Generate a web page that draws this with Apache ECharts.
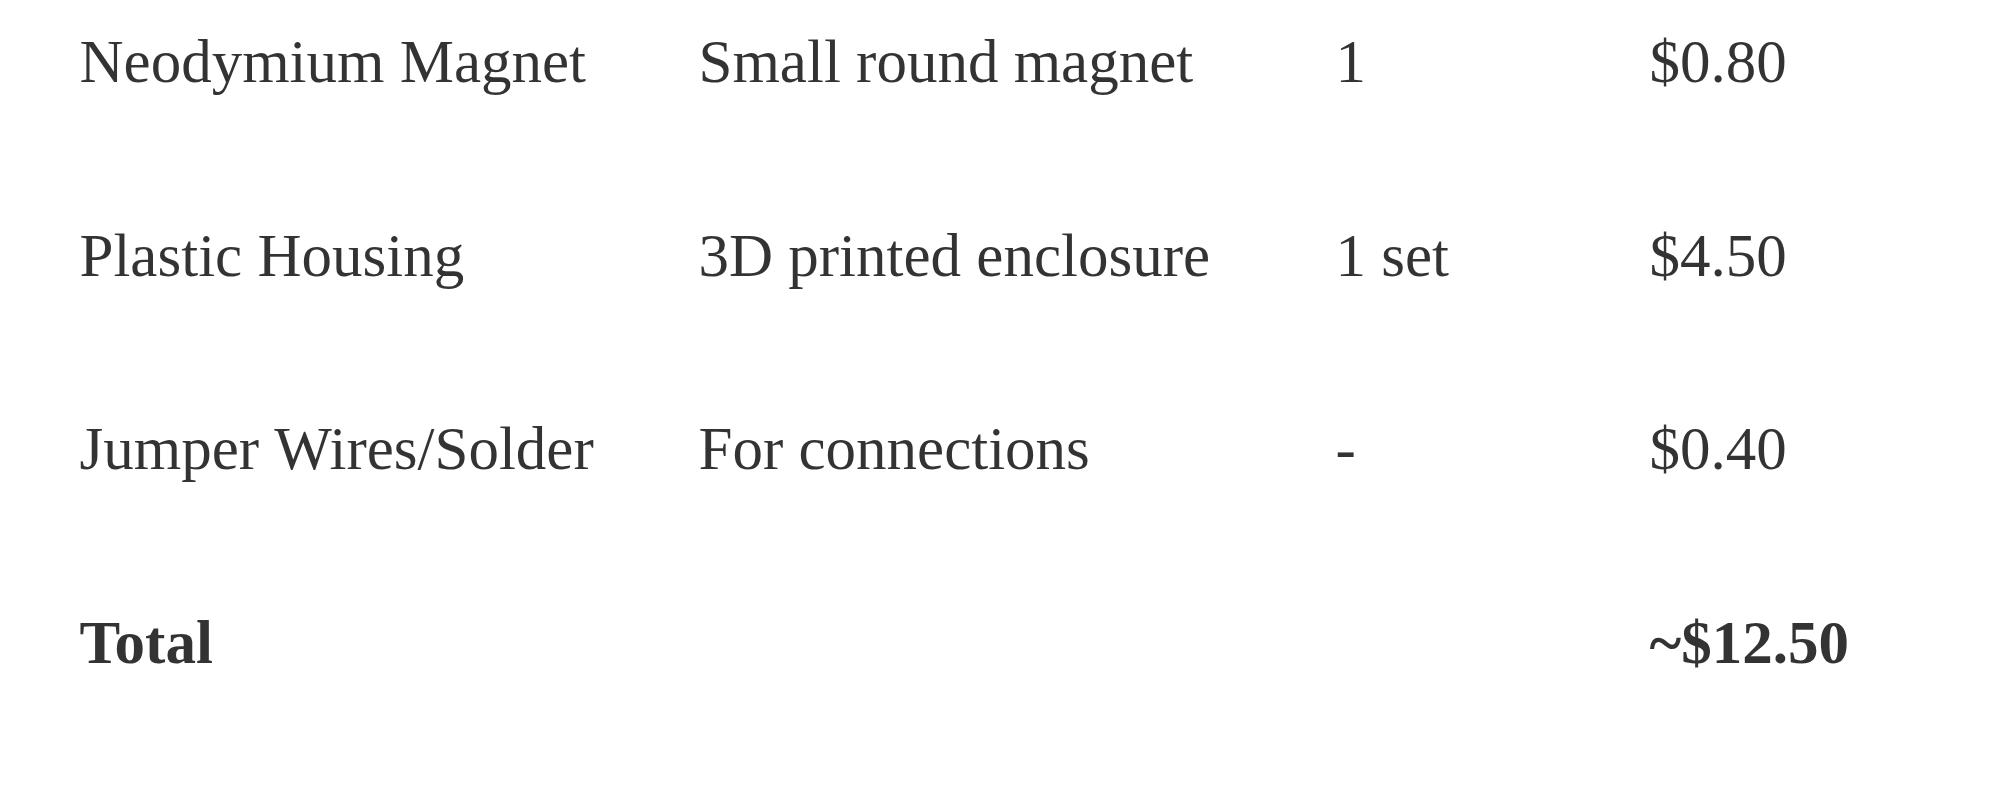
<!DOCTYPE html>
<html>
<head>
<meta charset="utf-8">
<script src="https://cdn.jsdelivr.net/npm/echarts@6/dist/echarts.min.js"></script>
<style>html,body{margin:0;padding:0;background:#fff}#main{width:1998px;height:788px}</style>
</head>
<body>
<div id="main"></div>
<script>
var components = ['Neodymium Magnet', 'Plastic Housing', 'Jumper Wires/Solder', 'Total'];
var descriptions = ['Small round magnet', '3D printed enclosure', 'For connections', ''];
var quantities = ['1', '1 set', '-', ''];
var costs = ['$0.80', '$4.50', '$0.40', '~$12.50'];

// column left edges in pixels (layout only)
var columnX = [79, 698, 1335, 1649];
var columns = [components, descriptions, quantities, costs];

var rowNames = components;
var data = [];
columns.forEach(function (col, c) {
    col.forEach(function (txt, r) {
        if (txt === '') return;
        data.push({
            value: [columnX[c], rowNames[r]],
            label: { formatter: txt, fontWeight: r === 3 ? 'bold' : 'normal' }
        });
    });
});

var chart = echarts.init(document.getElementById('main'));
chart.setOption({
    animation: false,
    grid: { left: 0, right: 0, top: 66, bottom: 141 },
    xAxis: { type: 'value', min: 0, max: 1998, show: false },
    yAxis: { type: 'category', data: rowNames, inverse: true, show: false, boundaryGap: false },
    series: [{
        type: 'scatter',
        symbolSize: 1,
        itemStyle: { color: 'rgba(0,0,0,0)' },
        label: {
            show: true,
            position: 'right',
            distance: 0,
            color: '#000',
            fontFamily: 'Liberation Serif',
            fontSize: 61
        },
        data: data
    }]
});
</script>
</body>
</html>
